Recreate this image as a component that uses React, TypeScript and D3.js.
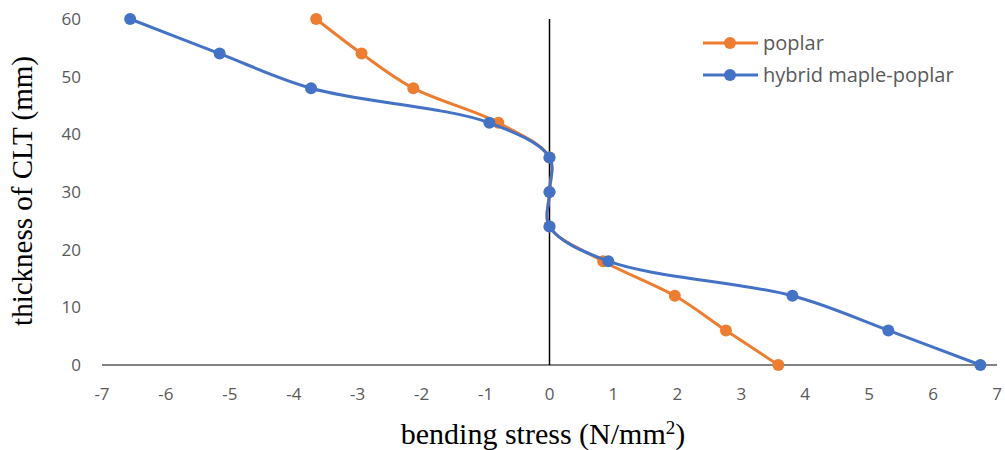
import React from "react";
import * as d3 from "d3";

const thickness = [60, 54, 48, 42, 36, 30, 24, 18, 12, 6, 0];
const poplar = [-3.65, -2.94, -2.13, -0.8, 0, 0, 0, 0.84, 1.96, 2.76, 3.58];
const hybrid = [-6.56, -5.16, -3.73, -0.94, 0, 0, 0, 0.92, 3.8, 5.3, 6.74];
const xTicks = [-7, -6, -5, -4, -3, -2, -1, 0, 1, 2, 3, 4, 5, 6, 7];
const yTicks = [0, 10, 20, 30, 40, 50, 60];
const seriesNames = ["poplar", "hybrid maple-poplar"];
const colors = ["#ED7D31", "#4472C4"];

export default function App() {
  const W = 1005, H = 450;
  const x = d3.scaleLinear().domain([-7, 7]).range([102, 997]);
  const y = d3.scaleLinear().domain([0, 60]).range([365, 19]);
  const line = d3
    .line<[number, number]>()
    .x((d) => x(d[0]))
    .y((d) => y(d[1]))
    .curve(d3.curveCatmullRom.alpha(0.5));
  const series = [poplar, hybrid];
  const tickColor = "#595959";
  return (
    <svg width={W} height={H} style={{ position: "absolute", left: 0, top: 0, background: "#fff" }}>
      <line x1={x(-7)} x2={x(7)} y1={y(0)} y2={y(0)} stroke="#595959" strokeWidth={1.5} />
      <line x1={x(0)} x2={x(0)} y1={y(60)} y2={y(0)} stroke="#000" strokeWidth={1.5} />
      {xTicks.map((t) => (
        <text key={t} x={x(t)} y={400} textAnchor="middle" fontFamily="Open Sans" fontSize={17} fill={tickColor}>
          {t}
        </text>
      ))}
      {yTicks.map((t) => (
        <text key={t} x={81} y={y(t) + 6} textAnchor="end" fontFamily="Open Sans" fontSize={17} fill={tickColor}>
          {t}
        </text>
      ))}
      <text x={543} y={444} textAnchor="middle" fontFamily="Liberation Serif" fontSize={30} fill="#000">
        bending stress (N/mm<tspan dy={-10} fontSize={19}>2</tspan><tspan dy={10}>)</tspan>
      </text>
      <text
        transform={`translate(32,${191}) rotate(-90)`}
        textAnchor="middle"
        fontFamily="Liberation Serif"
        fontSize={29}
        fill="#000"
      >
        thickness of CLT (mm)
      </text>
      {series.map((s, i) => {
        const pts: [number, number][] = s.map((v, j) => [v, thickness[j]]);
        return (
          <g key={i}>
            <path d={line(pts) || ""} fill="none" stroke={colors[i]} strokeWidth={3} />
            {pts.map((p, j) => (
              <circle key={j} cx={x(p[0])} cy={y(p[1])} r={6} fill={colors[i]} />
            ))}
          </g>
        );
      })}
      {seriesNames.map((n, i) => (
        <g key={n} transform={`translate(703,${43 + i * 32})`}>
          <line x1={0} x2={55} y1={0} y2={0} stroke={colors[i]} strokeWidth={3} />
          <circle cx={27} cy={0} r={6} fill={colors[i]} />
          <text x={60} y={7} fontFamily="Open Sans" fontSize={20} fill={tickColor}>
            {n}
          </text>
        </g>
      ))}
    </svg>
  );
}
